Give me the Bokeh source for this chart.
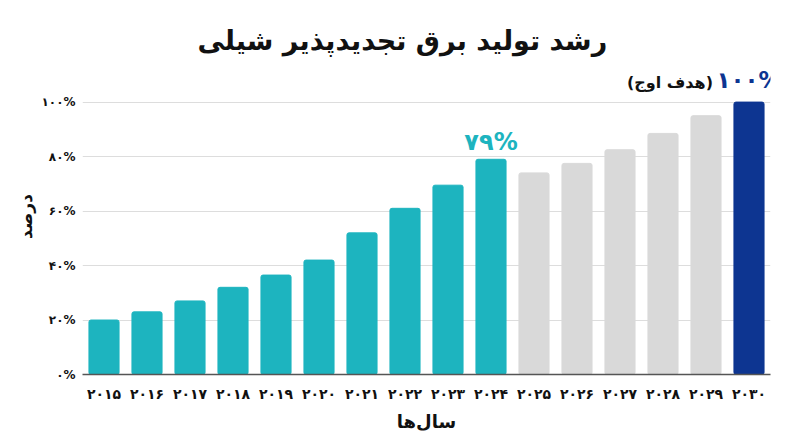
from bokeh.plotting import figure
from bokeh.models import ColumnDataSource, FixedTicker, Range1d, FactorRange, Label
from bokeh.embed import file_html
from bokeh.resources import INLINE

year_labels = ["۲۰۱۵", "۲۰۱۶", "۲۰۱۷", "۲۰۱۸", "۲۰۱۹", "۲۰۲۰", "۲۰۲۱", "۲۰۲۲",
               "۲۰۲۳", "۲۰۲۴", "۲۰۲۵", "۲۰۲۶", "۲۰۲۷", "۲۰۲۸", "۲۰۲۹", "۲۰۳۰"]
values = [20, 23, 27, 32, 36.5, 42, 52, 61, 69.5, 79, 74, 77.5, 82.5, 88.5, 95, 100]
status = ["actual"] * 10 + ["projected"] * 5 + ["target"]
y_ticks = [0, 20, 40, 60, 80, 100]
y_tick_labels = ["۰%", "۲۰%", "۴۰%", "۶۰%", "۸۰%", "۱۰۰%"]

title_text = "رشد تولید برق تجدیدپذیر شیلی"
x_title = "سال‌ها"
y_title = "درصد"
peak_label = "۷۹%"
target_label = "۱۰۰%"
target_note = "(هدف اوج)"

palette = {"actual": "#1DB4BF", "projected": "#D9D9D9", "target": "#0D3591"}
FONT = "DejaVu Sans"

src = ColumnDataSource(dict(year=year_labels, val=values,
                            color=[palette[s] for s in status]))

p = figure(frame_width=688, frame_height=316,
           x_range=FactorRange(*year_labels, range_padding=0),
           y_range=Range1d(0, 116), output_backend="svg", toolbar_location=None,
           min_border_left=82, min_border_right=14, min_border_top=58,
           min_border_bottom=62)
p.outline_line_color = None
p.background_fill_color = "white"

p.vbar(x="year", top="val", width=0.7, color="color", source=src, border_radius=2)

# axes
p.xaxis.major_tick_line_color = None
p.xaxis.minor_tick_line_color = None
p.xaxis.axis_line_color = "#555555"
p.xaxis.axis_line_width = 1.5
p.xaxis.major_label_text_font = FONT
p.xaxis.major_label_text_font_style = "bold"
p.xaxis.major_label_text_font_size = "14px"
p.xaxis.major_label_text_color = "#111111"
p.xaxis.major_label_standoff = 5
p.xaxis.axis_label = x_title
p.xaxis.axis_label_text_font = FONT
p.xaxis.axis_label_text_font_style = "bold"
p.xaxis.axis_label_text_font_size = "18px"
p.xaxis.axis_label_text_color = "#111111"
p.xaxis.axis_label_standoff = 6

p.yaxis.ticker = FixedTicker(ticks=y_ticks)
p.yaxis.major_label_overrides = dict(zip(y_ticks, y_tick_labels))
p.yaxis.axis_line_color = None
p.yaxis.major_tick_line_color = None
p.yaxis.minor_tick_line_color = None
p.yaxis.major_label_text_font = FONT
p.yaxis.major_label_text_font_style = "bold"
p.yaxis.major_label_text_font_size = "12px"
p.yaxis.major_label_text_color = "#111111"
p.yaxis.major_label_standoff = 1
p.yaxis.axis_label = y_title
p.yaxis.axis_label_text_font = FONT
p.yaxis.axis_label_text_font_style = "bold"
p.yaxis.axis_label_text_font_size = "17px"
p.yaxis.axis_label_text_color = "#111111"
p.yaxis.axis_label_standoff = 3

p.xgrid.grid_line_color = None
p.ygrid.ticker = FixedTicker(ticks=y_ticks)
p.ygrid.grid_line_color = "#DDDDDD"
p.ygrid.grid_line_width = 1

# title
p.title.text = title_text
p.title.align = "left"
p.title.offset = 115
p.title.text_font = FONT
p.title.text_font_style = "bold"
p.title.text_font_size = "27px"
p.title.text_color = "#111111"
p.title.standoff = 6

# annotations (categorical factor i sits at synthetic coordinate i + 0.5)
i_peak = year_labels.index("۲۰۲۴")
i_target = year_labels.index("۲۰۳۰")
p.add_layout(Label(x=i_peak + 0.5, y=values[i_peak] + 6.5, text=peak_label,
                   text_font=FONT, text_font_style="bold", text_font_size="24px",
                   text_color=palette["actual"], text_align="center",
                   text_baseline="middle"))
p.add_layout(Label(x=i_target + 0.5, y=values[i_target] + 8, text=target_label,
                   text_font=FONT, text_font_style="bold", text_font_size="23px",
                   text_color=palette["target"], text_align="center",
                   text_baseline="middle"))
p.add_layout(Label(x=i_target + 0.5, y=values[i_target] + 7.3, text=target_note,
                   x_offset=-36, text_font=FONT, text_font_style="bold",
                   text_font_size="16px", text_color="#111111",
                   text_align="right", text_baseline="middle"))

open("out.html", "w").write(file_html(p, INLINE))
